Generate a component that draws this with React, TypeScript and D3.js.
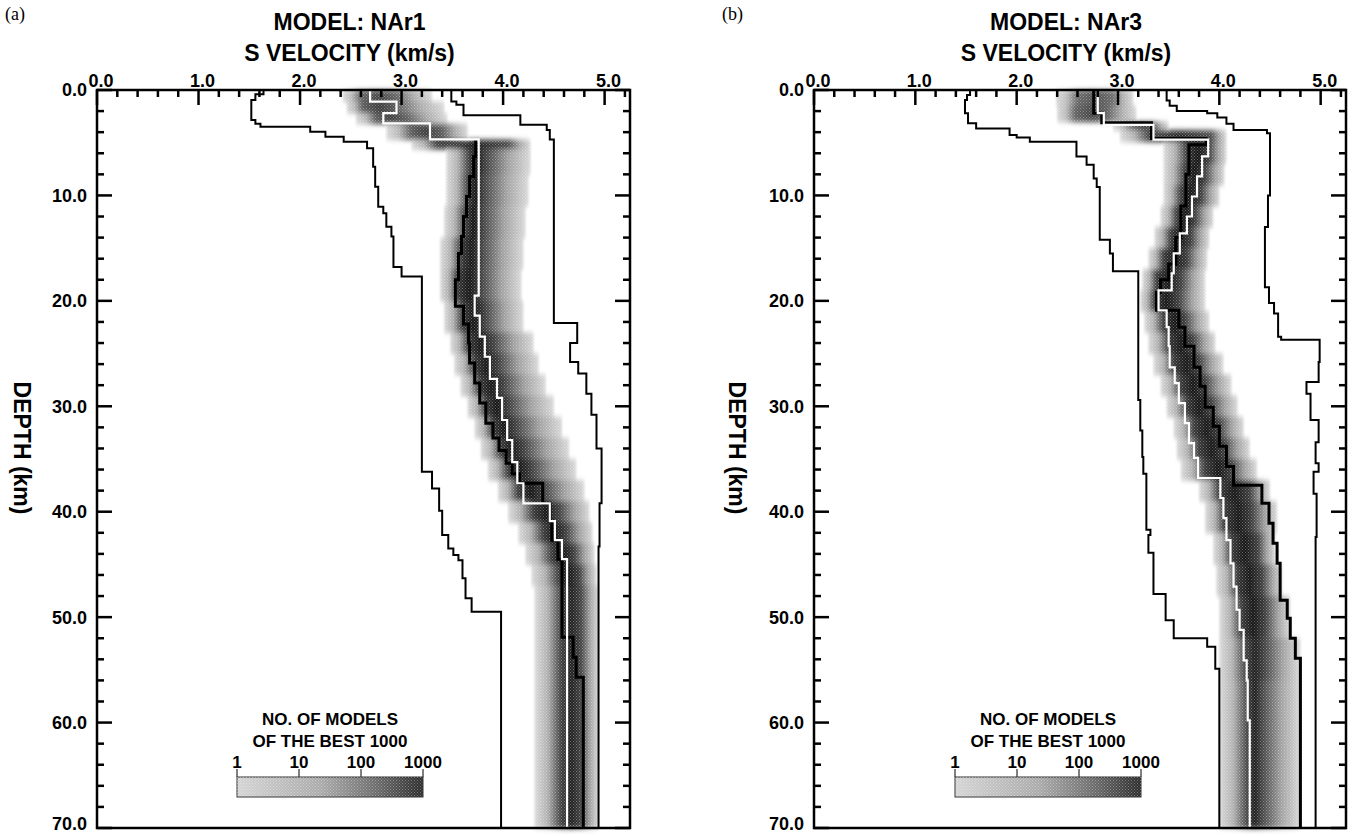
import React from "react";
import * as d3 from "d3";

// [depth (km), S velocity (km/s)] : velocity holds from this depth down to the next entry
type Step = [number, number];
// [top depth, outer left, core left, core right, outer right, core darkness 0..1]
type Row = [number, number, number, number, number, number];

const DEPTH_LABELS = [0, 10, 20, 30, 40, 50, 60, 70];
const VEL_LABELS = [0, 1, 2, 3, 4, 5];
const LEGEND_TICKS = [1, 10, 100, 1000];

// ---- MODEL NAr1 ----
const NAR1_LOWER: Step[] = [
  [0, 1.64], [0.4, 1.56], [0.95, 1.52], [2.85, 1.56], [3.2, 1.61], [3.48, 2.1], [3.95, 2.25],
  [4.43, 2.43], [4.9, 2.66], [5.53, 2.72], [7.27, 2.74], [9.17, 2.77], [11.07, 2.82], [11.7, 2.85],
  [12.97, 2.9], [13.9, 2.92], [16.8, 3.0], [17.7, 3.2], [36.2, 3.3], [37.8, 3.37], [39.9, 3.4],
  [42.2, 3.46], [43.5, 3.51], [44.1, 3.56], [44.6, 3.6], [46.3, 3.63], [48.2, 3.69], [49.5, 3.98],
];
const NAR1_UPPER: Step[] = [
  [0, 3.49], [1.1, 3.54], [1.4, 3.61], [2.4, 4.17], [3.3, 4.43], [3.8, 4.46], [4.7, 4.5],
  [22.1, 4.73], [24.0, 4.66], [25.8, 4.74], [26.9, 4.82], [28.8, 4.87], [30.8, 4.92],
  [34.0, 4.97], [39.2, 4.95], [43.3, 4.94],
];
const NAR1_BLACK: Step[] = [
  [4.7, 3.73], [6.3, 3.71], [8.2, 3.67], [10.1, 3.64], [12.0, 3.61], [13.9, 3.59], [15.5, 3.56],
  [18.0, 3.53], [20.5, 3.61], [22.2, 3.66], [24.0, 3.67], [25.9, 3.72], [27.8, 3.77], [29.7, 3.83],
  [31.6, 3.9], [33.0, 3.96], [34.2, 4.03], [35.4, 4.09], [36.4, 4.16], [37.3, 4.39], [39.2, 4.46],
  [40.9, 4.48], [42.7, 4.54], [44.5, 4.58], [51.9, 4.69], [53.8, 4.72], [55.7, 4.79],
];
const NAR1_WHITE: Step[] = [
  [0, 2.69], [1.1, 2.95], [2.2, 2.82], [3.16, 3.28], [4.68, 3.76], [19.5, 3.72], [21.4, 3.77],
  [23.4, 3.82], [25.3, 3.87], [27.4, 3.94], [29.2, 3.99], [31.3, 4.04], [33.2, 4.09], [35.3, 4.14],
  [37.3, 4.2], [39.2, 4.46], [40.9, 4.51], [42.7, 4.58], [44.5, 4.63],
];
const NAR1_DENSITY: Row[] = [
  [0, 2.42, 2.6, 2.95, 3.3, 0.75], [1.1, 2.46, 2.62, 2.95, 3.42, 0.8], [2.2, 2.55, 2.75, 3.05, 3.45, 0.8],
  [3.2, 2.85, 3.1, 3.4, 3.65, 0.8], [4.7, 3.1, 3.35, 4.05, 4.27, 0.95], [5.6, 3.44, 3.67, 3.82, 4.27, 1],
  [8, 3.44, 3.66, 3.8, 4.25, 1], [11, 3.42, 3.63, 3.79, 4.22, 1], [14, 3.38, 3.59, 3.78, 4.2, 1],
  [17, 3.38, 3.55, 3.78, 4.18, 1], [20, 3.42, 3.6, 3.82, 4.2, 1], [23, 3.48, 3.66, 3.9, 4.3, 1],
  [25, 3.52, 3.72, 3.95, 4.35, 1], [27, 3.58, 3.77, 4.0, 4.42, 1], [29, 3.65, 3.83, 4.05, 4.5, 1],
  [31, 3.72, 3.9, 4.12, 4.58, 1], [33, 3.78, 3.98, 4.2, 4.65, 1], [35, 3.85, 4.05, 4.28, 4.72, 1],
  [37, 3.95, 4.15, 4.4, 4.8, 1], [39, 4.05, 4.3, 4.55, 4.85, 1], [41, 4.15, 4.4, 4.62, 4.88, 1],
  [43, 4.22, 4.48, 4.7, 4.9, 1], [45, 4.28, 4.55, 4.75, 4.92, 1], [47, 4.31, 4.57, 4.77, 4.94, 0.95],
];

// ---- MODEL NAr3 ----
const NAR3_LOWER: Step[] = [
  [0, 1.54], [0.47, 1.51], [0.95, 1.49], [2.2, 1.52], [3.16, 1.6], [3.64, 1.93], [4.27, 2.0],
  [4.5, 2.13], [4.9, 2.59], [6.3, 2.69], [7.1, 2.76], [8.4, 2.79], [9.2, 2.82], [14.2, 2.92],
  [15.5, 2.95], [17.2, 3.2], [29.4, 3.22], [32.3, 3.24], [34.8, 3.25], [36.4, 3.28], [41.7, 3.32],
  [42.2, 3.3], [43.9, 3.35], [47.8, 3.47], [50.3, 3.55], [52.0, 3.88], [52.8, 3.96], [54.9, 4.0],
];
const NAR3_UPPER: Step[] = [
  [0, 3.48], [1.0, 3.51], [1.5, 3.58], [2.0, 3.88], [2.2, 3.98], [2.6, 4.07], [3.2, 4.14],
  [3.8, 4.47], [4.1, 4.5], [10.0, 4.48], [13.0, 4.45], [18.7, 4.49], [20.2, 4.54], [21.2, 4.58],
  [23.4, 4.61], [23.7, 4.99], [25.8, 4.98], [27.7, 4.86], [28.8, 4.9], [31.3, 4.98], [33.4, 4.95],
  [35.4, 4.98], [36.2, 4.93], [38.3, 4.96], [42.4, 4.95],
];
const NAR3_BLACK: Step[] = [
  [0, 2.76], [2.2, 2.84], [3.1, 3.33], [4.6, 3.87], [5.2, 3.7], [8.0, 3.67], [11.0, 3.62],
  [14.0, 3.57], [16.5, 3.5], [18.0, 3.42], [19.2, 3.38], [20.9, 3.6], [22.5, 3.66], [24.3, 3.75],
  [26.3, 3.81], [28.1, 3.86], [30.1, 3.94], [31.9, 4.0], [33.8, 4.07], [35.7, 4.14], [37.5, 4.42],
  [39.2, 4.49], [41.1, 4.53], [43.0, 4.57], [44.9, 4.6], [48.4, 4.67], [50.1, 4.7], [52.0, 4.75],
  [53.9, 4.8],
];
const NAR3_WHITE: Step[] = [
  [0, 2.8], [2.2, 2.86], [3.3, 3.35], [4.7, 3.89], [6.3, 3.83], [8.2, 3.78], [10.1, 3.73],
  [12.0, 3.68], [13.6, 3.61], [15.5, 3.55], [17.4, 3.53], [19.0, 3.4], [20.9, 3.48], [22.5, 3.5],
  [24.3, 3.51], [26.3, 3.56], [27.8, 3.6], [29.7, 3.66], [31.6, 3.7], [33.5, 3.75], [34.9, 3.79],
  [36.8, 4.01], [38.7, 4.04], [40.6, 4.07], [42.7, 4.11], [44.9, 4.14], [47.1, 4.17], [49.3, 4.2],
  [51.2, 4.24], [54.1, 4.27], [56.0, 4.28], [59.8, 4.3],
];
const NAR3_DENSITY: Row[] = [
  [0, 2.39, 2.6, 2.95, 3.15, 0.7], [1.5, 2.4, 2.58, 2.9, 3.18, 0.75], [3.0, 2.95, 3.15, 3.35, 3.5, 0.8],
  [3.8, 3.02, 3.3, 3.92, 4.07, 0.9], [4.9, 3.45, 3.68, 3.9, 4.07, 1], [7, 3.45, 3.66, 3.86, 4.05, 1],
  [9, 3.45, 3.62, 3.82, 4.0, 1], [11, 3.42, 3.58, 3.76, 3.94, 1], [13, 3.36, 3.52, 3.72, 3.9, 1],
  [15, 3.3, 3.45, 3.68, 3.88, 1], [17, 3.24, 3.38, 3.62, 3.86, 1], [19, 3.22, 3.36, 3.6, 3.86, 1],
  [21, 3.26, 3.45, 3.66, 3.9, 1], [23, 3.3, 3.5, 3.74, 3.96, 1], [25, 3.35, 3.55, 3.8, 4.04, 1],
  [27, 3.42, 3.62, 3.86, 4.12, 1], [29, 3.48, 3.68, 3.92, 4.18, 1], [31, 3.55, 3.75, 4.0, 4.24, 1],
  [33, 3.58, 3.8, 4.05, 4.3, 1], [35, 3.62, 3.86, 4.12, 4.37, 1], [37, 3.8, 4.0, 4.3, 4.5, 1],
  [39, 3.86, 4.05, 4.32, 4.57, 1], [42, 3.94, 4.12, 4.38, 4.55, 1], [45, 3.97, 4.18, 4.42, 4.62, 1],
  [48, 4.0, 4.22, 4.45, 4.7, 1], [52, 4.0, 4.26, 4.45, 4.8, 0.95], [56, 4.0, 4.28, 4.42, 4.8, 0.95],
];

const TOP = 90;
const BOTTOM = 828;
const MAX_DEPTH = 70;
const MAX_VEL = 5.25;
const FONT = "'Liberation Sans', Arial, Helvetica, sans-serif";
const fmt = d3.format(".1f");
const LIGHT = "#d9d9d9";
const shade = d3.interpolateRgb(LIGHT, "#141414");

type PanelProps = {
  id: string;
  left: number;
  right: number;
  tag: string;
  title: string;
  lower: Step[];
  upper: Step[];
  black: Step[];
  white: Step[];
  density: Row[];
  legendX: number;
  labelX: number;
};

function Panel(p: PanelProps) {
  const x = d3.scaleLinear().domain([0, MAX_VEL]).range([p.left, p.right]);
  const y = d3.scaleLinear().domain([0, MAX_DEPTH]).range([TOP, BOTTOM]);
  const line = d3.line<Step>().x((s) => x(s[1])).y((s) => y(s[0]));

  // turn a layer list into a vertical staircase
  const stepPath = (steps: Step[]) => {
    const pts: Step[] = [];
    steps.forEach((s, i) => {
      const next = i + 1 < steps.length ? steps[i + 1][0] : MAX_DEPTH;
      pts.push([s[0], s[1]], [next, s[1]]);
    });
    return line(pts) || "";
  };

  const cx = (p.left + p.right) / 2 - 14;
  const minorVel = d3.range(0, 5.21, 0.2);
  const minorDepth = d3.range(0, 70.1, 2);

  const legend = d3.scaleLog().domain([1, 1000]).range([p.legendX, p.legendX + 186]);
  const legendMid = p.legendX + 93;

  return (
    <g>
      <defs>
        {p.density.map((r, i) => {
          const [, lo, cLo, cHi, hi, k] = r;
          const span = hi - lo;
          const a = (cLo - lo) / span;
          const b = (cHi - lo) / span;
          return (
            <linearGradient key={i} id={`${p.id}-g${i}`} x1="0" x2="1" y1="0" y2="0">
              <stop offset={0} stopColor={LIGHT} />
              <stop offset={a * 0.5} stopColor={shade(k * 0.22)} />
              <stop offset={a} stopColor={shade(k * 0.82)} />
              <stop offset={(a + b) / 2} stopColor={shade(k)} />
              <stop offset={b} stopColor={shade(k * 0.8)} />
              <stop offset={b + (1 - b) * 0.5} stopColor={shade(k * 0.3)} />
              <stop offset={1} stopColor={LIGHT} />
            </linearGradient>
          );
        })}
        <linearGradient id={`${p.id}-leg`} x1="0" x2="1" y1="0" y2="0">
          <stop offset={0} stopColor="#d4d4d4" />
          <stop offset={0.45} stopColor="#aaaaaa" />
          <stop offset={0.75} stopColor="#6a6a6a" />
          <stop offset={1} stopColor="#2a2a2a" />
        </linearGradient>
      </defs>

      <text x={p.left - 92} y={20} fontFamily="'Liberation Serif', 'Times New Roman', serif" fontSize={18}>
        {p.tag}
      </text>
      <text x={cx} y={30} textAnchor="middle" fontFamily={FONT} fontWeight="bold" fontSize={23}>
        {p.title}
      </text>
      <text x={cx} y={61} textAnchor="middle" fontFamily={FONT} fontWeight="bold" fontSize={23}>
        S VELOCITY (km/s)
      </text>

      {/* density of the best 1000 models */}
      <g filter="url(#soft)">
        {p.density.map((r, i) => {
          const next = i + 1 < p.density.length ? p.density[i + 1][0] : MAX_DEPTH;
          return (
            <rect
              key={i}
              x={x(r[1])}
              y={y(r[0])}
              width={x(r[4]) - x(r[1])}
              height={y(next) - y(r[0]) + 0.5}
              fill={`url(#${p.id}-g${i})`}
            />
          );
        })}
      </g>
      <rect
        x={p.left}
        y={TOP}
        width={p.right - p.left}
        height={BOTTOM - TOP}
        fill="url(#dots)"
        opacity={0.35}
        mask={`url(#${p.id}-m)`}
      />
      <mask id={`${p.id}-m`}>
        {p.density.map((r, i) => {
          const next = i + 1 < p.density.length ? p.density[i + 1][0] : MAX_DEPTH;
          return (
            <rect key={i} x={x(r[1])} y={y(r[0])} width={x(r[4]) - x(r[1])} height={y(next) - y(r[0])} fill="#fff" />
          );
        })}
      </mask>

      <path d={stepPath(p.lower)} fill="none" stroke="#000" strokeWidth={2} />
      <path d={stepPath(p.upper)} fill="none" stroke="#000" strokeWidth={2} />
      <path d={stepPath(p.black)} fill="none" stroke="#000" strokeWidth={3} />
      <path d={stepPath(p.white)} fill="none" stroke="#fff" strokeWidth={2.2} />

      {/* frame and ticks */}
      <rect x={p.left} y={TOP} width={p.right - p.left} height={BOTTOM - TOP} fill="none" stroke="#000" strokeWidth={2.5} />
      {minorVel.map((v) => {
        const major = Math.abs(v - Math.round(v)) < 1e-6;
        return <line key={v} x1={x(v)} x2={x(v)} y1={TOP} y2={TOP + (major ? 15 : 7)} stroke="#000" strokeWidth={2.5} />;
      })}
      {minorDepth.map((d) => {
        const len = d % 10 === 0 ? 15 : 7;
        return (
          <g key={d}>
            <line x1={p.left} x2={p.left + len} y1={y(d)} y2={y(d)} stroke="#000" strokeWidth={2.5} />
            <line x1={p.right} x2={p.right - len} y1={y(d)} y2={y(d)} stroke="#000" strokeWidth={2.5} />
          </g>
        );
      })}
      {VEL_LABELS.map((v) => (
        <text key={v} x={x(v) + 4} y={TOP - 3} textAnchor="middle" fontFamily={FONT} fontWeight="bold" fontSize={18}>
          {fmt(v)}
        </text>
      ))}
      {DEPTH_LABELS.map((d) => (
        <text
          key={d}
          x={p.left - 10}
          y={Math.min(y(d), BOTTOM - 4)}
          dy="0.36em"
          textAnchor="end"
          fontFamily={FONT}
          fontWeight="bold"
          fontSize={18}
        >
          {fmt(d)}
        </text>
      ))}
      <text
        transform={`translate(${p.labelX},448) rotate(90)`}
        textAnchor="middle"
        dy="0.35em"
        fontFamily={FONT}
        fontWeight="bold"
        fontSize={23}
      >
        DEPTH (km)
      </text>

      {/* legend */}
      <text x={legendMid} y={725} textAnchor="middle" fontFamily={FONT} fontWeight="bold" fontSize={17}>
        NO. OF MODELS
      </text>
      <text x={legendMid} y={747} textAnchor="middle" fontFamily={FONT} fontWeight="bold" fontSize={17}>
        OF THE BEST 1000
      </text>
      {LEGEND_TICKS.map((t) => (
        <g key={t}>
          <text x={legend(t)} y={768} textAnchor="middle" fontFamily={FONT} fontWeight="bold" fontSize={17}>
            {t}
          </text>
          <line x1={legend(t)} x2={legend(t)} y1={769} y2={777} stroke="#000" strokeWidth={1} />
        </g>
      ))}
      <rect x={p.legendX} y={777} width={186} height={20} fill={`url(#${p.id}-leg)`} stroke="#333" strokeWidth={1} />
      <rect x={p.legendX} y={777} width={186} height={20} fill="url(#dots)" opacity={0.35} />
    </g>
  );
}

export default function App() {
  return (
    <svg
      width={1357}
      height={836}
      viewBox="0 0 1357 836"
      style={{ position: "absolute", left: 0, top: 0, background: "#fff" }}
    >
      <defs>
        <filter id="soft" x="-5%" y="-5%" width="110%" height="110%">
          <feGaussianBlur stdDeviation="1.2 2.5" />
        </filter>
        {/* halftone-like screen */}
        <pattern id="dots" width={3} height={3} patternUnits="userSpaceOnUse">
          <rect x={0} y={0} width={1} height={1} fill="#fff" />
          <rect x={1.5} y={1.5} width={1} height={1} fill="#fff" />
        </pattern>
      </defs>
      <rect width={1357} height={836} fill="#fff" />
      <Panel
        id="a"
        left={97}
        right={630}
        tag="(a)"
        title="MODEL: NAr1"
        lower={NAR1_LOWER}
        upper={NAR1_UPPER}
        black={NAR1_BLACK}
        white={NAR1_WHITE}
        density={NAR1_DENSITY}
        legendX={237}
        labelX={22}
      />
      <Panel
        id="b"
        left={814}
        right={1346}
        tag="(b)"
        title="MODEL: NAr3"
        lower={NAR3_LOWER}
        upper={NAR3_UPPER}
        black={NAR3_BLACK}
        white={NAR3_WHITE}
        density={NAR3_DENSITY}
        legendX={955}
        labelX={737}
      />
    </svg>
  );
}
